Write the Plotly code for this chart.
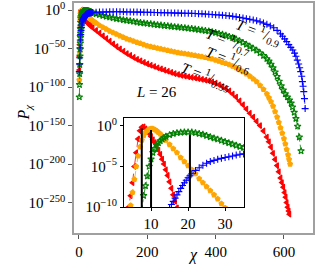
import plotly.graph_objects as go

# ---------------- data (log10 of P_chi) ----------------
red_chi = [1, 1.5, 2, 2.5, 3, 3.5, 4, 4.5, 5, 5.5, 6, 6.5, 7, 7.5, 8, 8.5, 9, 9.5, 10, 10.5,
           11, 11.5, 12, 12.5, 13, 13.5, 14, 14.5, 15, 15.5, 16, 16.5, 17, 18, 19, 20, 22, 25, 30, 35,
           40, 50, 60, 70, 80, 90, 100, 110, 120, 130, 140, 150, 160, 170, 180, 190, 200, 210, 220,
           230, 240, 250, 260, 270, 280, 290, 300, 310, 320, 330, 340, 350, 360, 370, 380, 390, 400,
           410, 420, 430, 440, 450, 460, 470, 480, 490, 500, 510, 520, 530, 540, 550, 556, 562, 568,
           574, 580, 585, 590, 594, 598, 602, 605, 608, 611, 614, 616]
red_logp = [-78, -60, -45, -33, -23, -15, -10, -8.6, -7.0, -5.0, -3.3, -1.6, -0.6, -0.15, -0.12, -0.35,
            -0.65, -0.95, -1.3, -1.7, -2.05, -2.5, -3.0, -3.5, -4.1, -4.7, -5.4, -6.1, -6.9, -7.7, -8.5,
            -9.3, -10.1, -11.4, -12.5, -13.5, -15, -16.8, -19, -21,
            -23, -26.5, -30, -33.5, -37, -40.5, -44, -47.5, -50.5, -53.5, -56.5, -59, -61.5, -64, -66,
            -68, -70, -71.7, -73.3, -75, -76.5, -78, -79.5, -81, -82.5, -83.7, -84.8, -85.8, -86.7,
            -87.5, -88.3, -89.1, -90, -91, -92, -93.3, -95, -97, -99.5, -102, -105, -109, -113, -118,
            -123, -128.5, -134, -139, -144.5, -150, -157, -165, -171, -178, -186, -194, -202, -210,
            -218, -224, -230, -237, -243, -250, -256, -261, -265]

orange_chi = [1, 1.5, 2, 2.5, 3, 3.5, 4, 4.5, 5, 5.5, 6, 6.5, 7, 7.5, 8, 8.5, 9, 9.5, 10, 10.5,
              11, 11.5, 12, 12.5, 13, 13.5, 14, 15, 16, 17, 18, 19, 20, 21, 22, 23, 24, 25, 26, 27,
              28, 29, 30, 32, 35, 40, 45, 50, 60, 70, 80, 90, 100, 110, 120, 130, 140, 150, 160, 170,
              180, 190, 200, 210, 220, 230, 240, 250, 260, 270, 280, 290, 300, 310, 320, 330, 340,
              350, 360, 370, 380, 390, 400, 410, 420, 430, 440, 450, 460, 470, 480, 490, 500, 510,
              520, 530, 540, 550, 556, 562, 568, 574, 580, 585, 590, 595, 600, 604, 608, 612, 615, 618]
orange_logp = [-91, -72, -55, -41, -30, -21, -14, -9.8, -8.2, -6.6, -5.0, -3.7, -2.6, -1.75, -1.2,
               -0.8, -0.55, -0.4, -0.33, -0.35, -0.45, -0.6, -0.8, -1.0, -1.25, -1.5, -1.75, -2.3,
               -2.8, -3.3, -3.9, -4.4, -4.9, -5.4, -5.9, -6.5, -7.0, -7.5, -8.0, -8.5, -9.0, -9.6,
               -10.1, -11.0, -12.2, -14, -15.6, -17, -20, -22.5, -25, -27.5, -29.5, -31.5, -33.5,
               -35.5, -37.5, -39, -40.5, -42, -43.5, -45, -46.5, -47.5, -48.5, -49.5, -50.5, -51.5,
               -52.5, -53.5, -54.5, -55.3, -56, -56.8, -57.5, -58.3, -59, -59.8, -60.6, -61.5, -62.5,
               -63.5, -65, -66.5, -68, -69.5, -71, -73, -75, -77.5, -80, -83, -86, -89.5, -93, -98,
               -103, -109, -114, -119, -125, -132, -139, -146, -153, -160, -167, -174, -181, -188,
               -194, -200]

green_chi = [1, 1.5, 2, 2.5, 3, 3.5, 4, 4.5, 5, 5.5, 6, 6.5, 7, 7.5, 8, 8.5, 9, 9.5, 10, 10.5,
             11, 11.5, 12, 12.5, 13, 13.5, 14, 15, 16, 17, 18, 19, 20, 21, 22, 23, 24, 25, 26, 27,
             28, 29, 30, 31, 32, 33, 34, 35, 36, 40, 50, 60, 70, 80, 90, 100, 110, 120, 130, 140,
             150, 160, 170, 180, 190, 200, 210, 220, 230, 240, 250, 260, 270, 280, 290, 300, 310,
             320, 330, 340, 350, 360, 370, 380, 390, 400, 410, 420, 430, 440, 450, 460, 470, 480,
             490, 500, 510, 520, 530, 540, 550, 556, 562, 568, 574, 580, 586, 592, 598, 604, 610,
             616, 621, 625, 630, 635, 640, 645, 650]
green_logp = [-113, -97, -83, -71, -60, -51, -43, -36, -30, -25, -20.5, -16.5, -13, -10.5, -8.6,
              -7.4, -6.2, -5.0, -4.1, -3.3, -2.8, -2.4, -2.1, -1.85, -1.65, -1.45, -1.3, -1.1, -0.95,
              -0.85, -0.8, -0.77, -0.76, -0.78, -0.85, -0.95, -1.05, -1.2, -1.35, -1.5, -1.65, -1.8,
              -1.95, -2.1, -2.25, -2.4, -2.55, -2.7, -2.85, -3.5, -5, -6.2, -7.4, -8.5, -9.5, -10.4,
              -11.3, -12.1, -12.9, -13.6, -14.3, -15, -15.7, -16.4, -17, -17.6, -18.2, -18.8, -19.3,
              -19.8, -20.3, -20.8, -21.3, -21.8, -22.3, -22.8, -23.3, -23.8, -24.3, -24.9, -25.5,
              -26.1, -26.8, -27.6, -28.5, -29.5, -30.6, -31.7, -33, -34.5, -36, -38, -40, -42.3,
              -44.7, -47.2, -49.8, -52.5, -55.8, -59.3, -63.3, -66.5, -70.5, -75, -80.5, -86.5,
              -92.5, -98.5, -104, -109, -113, -117, -121, -126, -133, -141, -151, -165, -183]

blue_chi = [1, 1.5, 2, 3, 4, 5, 6, 7, 8, 9, 10, 11, 12, 13, 14, 15, 15.5, 16, 16.5, 17, 17.5, 18,
            18.5, 19, 19.5, 20, 20.5, 21, 22, 23, 24, 25, 26, 27, 28, 29, 30, 31, 32, 33, 34, 35, 36,
            40, 50, 60, 70, 80, 90, 100, 110, 120, 130, 140, 150, 160, 170, 180, 190, 200, 210, 220,
            230, 240, 250, 260, 270, 280, 290, 300, 310, 320, 330, 340, 350, 360, 370, 380, 390, 400,
            410, 420, 430, 440, 450, 460, 470, 480, 490, 500, 510, 520, 530, 540, 550, 560, 570, 580,
            590, 596, 602, 608, 614, 620, 626, 631, 635, 639, 643, 646, 649, 652, 654, 656, 658, 660,
            662]
blue_logp = [-80, -70, -62, -49, -39, -32, -26.5, -22.5, -19.5, -17.2, -15.4, -14, -12.8, -11.8,
             -10.9, -10.1, -9.7, -9.3, -8.9, -8.5, -8.1, -7.7, -7.35, -7.0, -6.7, -6.4, -6.15, -5.9,
             -5.5, -5.15, -4.85, -4.6, -4.4, -4.25, -4.1, -4.0, -3.9, -3.8, -3.7, -3.6, -3.5, -3.45,
             -3.4, -3.2, -2.9, -2.7, -2.55, -2.45, -2.4, -2.35, -2.35, -2.35, -2.4, -2.45, -2.5, -2.6,
             -2.7, -2.8, -2.9, -3.0, -3.1, -3.2, -3.3, -3.4, -3.5, -3.6, -3.75, -3.9, -4.0, -4.1,
             -4.2, -4.3, -4.4, -4.6, -4.8, -5.0, -5.2, -5.5, -5.8, -6.1, -6.4, -6.7, -7.1, -7.6,
             -8.2, -8.9, -9.6, -10.4, -11.2, -12, -13, -14.1, -15.4, -16.9, -18.6, -20.6, -23,
             -26.5, -31, -34, -37.5, -41, -45, -48.5, -52, -56, -60, -65, -70, -75, -80, -86, -93,
             -99, -106, -115, -128]

# peak markers in the inset (chi position, log10 of height)
peak_chi = [7.5, 10.0, 20.5]
peak_logp = [-0.3, -0.5, -1.1]

temp_labels = ["0.9", "0.7", "0.6", "0.55"]
main_xticks = [0, 200, 400, 600]
main_yexp = [0, -50, -100, -150, -200, -250]
inset_xticks = [10, 20, 30]
inset_yexp = [0, -5, -10]

# ---------------- layout geometry ----------------
W, H = 316, 276
ML, MR, MT, MB = 74, 3, 3, 43
PW, PH = W - ML - MR, H - MT - MB
BOT = H - MB


def pxx(x):
    return (x - ML) / PW


def pxy(y):
    return (BOT - y) / PH


FONT = "Liberation Serif"
fig = go.Figure()

series = [
    (red_chi, red_logp, "#ff0000", "triangle-left", "dash", 5),
    (orange_chi, orange_logp, "#ffa500", "pentagon", "dash", 5),
    (green_chi, green_logp, "#008000", "star-open", "dashdot", 5),
    (blue_chi, blue_logp, "#0000ff", "cross-thin-open", "dashdot", 5),
]

for xa, ya in [("x", "y"), ("x2", "y2")]:
    for chi, lp, col, sym, dash, ms in series:
        fig.add_trace(go.Scatter(
            x=chi, y=[10.0 ** v for v in lp], xaxis=xa, yaxis=ya,
            mode="lines+markers",
            line=dict(color=col, width=0.8, dash=dash),
            marker=dict(symbol=sym, size=ms, color=col, line=dict(color=col, width=1.1)),
            showlegend=False, hoverinfo="skip"))

# vertical black lines in inset
vx, vy = [], []
for c, p in zip(peak_chi, peak_logp):
    vx += [c, c, None]
    vy += [1e-11, 10.0 ** p, None]
fig.add_trace(go.Scatter(x=vx, y=vy, xaxis="x2", yaxis="y2", mode="lines",
                         line=dict(color="black", width=2), showlegend=False, hoverinfo="skip"))

# inset geometry
IX0, IX1, IY0, IY1 = 124, 244, 118, 207

fig.add_shape(type="rect", xref="x2", yref="y2", x0=2.7, x1=35.1, y0=1e-10, y1=10 ** 0.98,
              fillcolor="white", line=dict(width=0), layer="below")

tickfont = dict(family=FONT, size=15, color="black")

fig.update_layout(
    width=W, height=H, margin=dict(l=ML, r=MR, t=MT, b=MB, autoexpand=False),
    paper_bgcolor="white", plot_bgcolor="white",
    font=dict(family=FONT, size=15, color="black"),
    xaxis=dict(domain=[0, 1], range=[-14.6, 685], tickvals=main_xticks, automargin=False,
               showgrid=False, zeroline=False, showline=True, mirror=True,
               linecolor="#a0a0a0", linewidth=1.5, ticks="outside", ticklen=4,
               tickcolor="#555555", tickfont=tickfont, ticklabeloverflow="allow"),
    yaxis=dict(domain=[0, 1], type="log", range=[-289.5, 9.1], automargin=False,
               tickvals=[10.0 ** e for e in main_yexp],
               ticktext=["10<sup>%s</sup>" % (str(e).replace("-", "\u2212")) for e in main_yexp],
               showgrid=False, zeroline=False, showline=True, mirror=True,
               linecolor="#a0a0a0", linewidth=1.5, ticks="outside", ticklen=4,
               tickcolor="#555555", tickfont=tickfont, ticklabeloverflow="allow"),
    xaxis2=dict(domain=[pxx(IX0), pxx(IX1)], anchor="y2", range=[2.7, 35.1], automargin=False,
                tickvals=inset_xticks, showgrid=False, zeroline=False, showline=True,
                mirror=True, linecolor="black", linewidth=1, ticks="outside", ticklen=3,
                tickcolor="black", tickfont=tickfont, ticklabeloverflow="allow"),
    yaxis2=dict(domain=[pxy(IY1), pxy(IY0)], anchor="x2", type="log", range=[-10, 0.98],
                automargin=False,
                tickvals=[10.0 ** e for e in inset_yexp],
                ticktext=["10<sup>%s</sup>" % (str(e).replace("-", "\u2212")) for e in inset_yexp],
                showgrid=False, zeroline=False, showline=True, mirror=True,
                linecolor="black", linewidth=1, ticks="outside", ticklen=3,
                tickcolor="black", tickfont=tickfont, ticklabeloverflow="allow"),
)

ann = []
# axis titles
ann.append(dict(text="<i>χ</i>", x=pxx(193), y=pxy(266), xref="paper", yref="paper",
                showarrow=False, font=dict(family=FONT, size=16)))
ann.append(dict(text="<i>P</i><sub><i>χ</i></sub>", x=pxx(12), y=pxy(112), xref="paper",
                yref="paper", showarrow=False, textangle=-90, font=dict(family=FONT, size=16)))
ann.append(dict(text="<i>L</i> = 26", x=pxx(134), y=pxy(92), xref="paper", yref="paper",
                showarrow=False, font=dict(family=FONT, size=15)))
tpos = [(287, 12), (257, 21), (228, 39), (206, 55)]
for lab, (tx, ty) in zip(temp_labels, tpos):
    ann.append(dict(text="<i>T</i> = <sup>1</sup>/<sub>%s</sub>" % lab, x=pxx(tx), y=pxy(ty),
                    xref="paper", yref="paper", showarrow=False, textangle=21,
                    font=dict(family=FONT, size=15)))
fig.update_layout(annotations=ann)

fig.write_html("out.html", post_script="document.body.style.margin='0px';",
               config={"displayModeBar": False})
